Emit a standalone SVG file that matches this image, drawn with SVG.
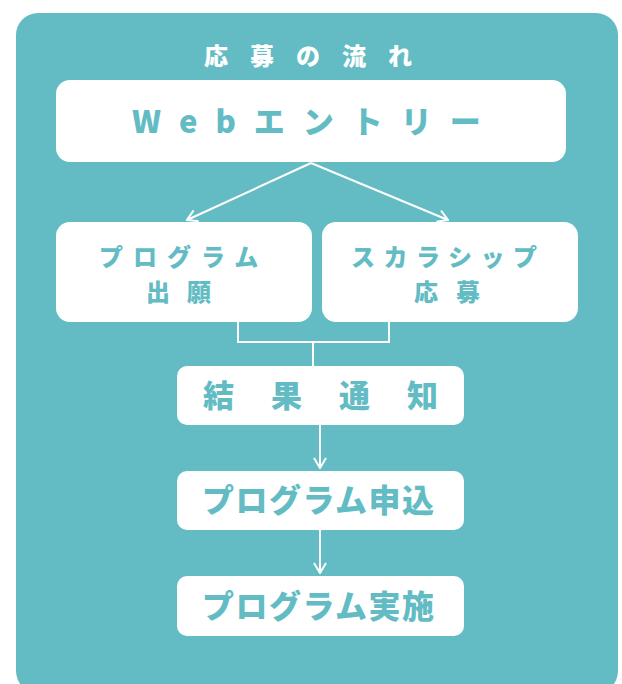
<svg xmlns="http://www.w3.org/2000/svg" width="622" height="684" viewBox="0 0 622 684">
<defs>
<style>
.bg{fill:#63bcc4}
.box{fill:#ffffff}
.t{font-family:"Noto Sans CJK JP","Noto Sans",sans-serif;font-weight:900;fill:#63bcc4}
.title{font-family:"Noto Sans CJK JP","Noto Sans",sans-serif;font-weight:900;fill:#ffffff;font-size:24px;letter-spacing:22px}
.ln{fill:none;stroke:#ffffff;stroke-width:2}
</style>
<marker id="ah" viewBox="0 0 12 14" refX="11" refY="7" markerWidth="12" markerHeight="14" markerUnits="userSpaceOnUse" orient="auto">
<path d="M1,1 L11,7 L1,13" fill="none" stroke="#ffffff" stroke-width="2"/>
</marker>
</defs>
<rect class="bg" x="16" y="13" width="602" height="680" rx="22"/>
<text class="title" x="204" y="65">応募の流れ</text>
<g id="connectors">
<line class="ln" x1="311" y1="163" x2="187" y2="220" marker-end="url(#ah)"/>
<line class="ln" x1="311" y1="163" x2="448" y2="220" marker-end="url(#ah)"/>
<polyline class="ln" points="238,322 238,342 389,342 389,322"/>
<line class="ln" x1="313" y1="342" x2="313" y2="366"/>
<line class="ln" x1="320" y1="425" x2="320" y2="468" marker-end="url(#ah)"/>
<line class="ln" x1="320" y1="530" x2="320" y2="573" marker-end="url(#ah)"/>
</g>
<g id="web">
<rect class="box" x="56" y="80" width="510" height="82" rx="14"/>
<text class="t" x="132" y="133" font-size="31" letter-spacing="18">Webエントリー</text>
</g>
<g id="program-apply">
<rect class="box" x="56" y="222" width="256" height="100" rx="14"/>
<text class="t" x="99" y="266" font-size="24" letter-spacing="10">プログラム</text>
<text class="t" x="146" y="301" font-size="24" letter-spacing="17">出願</text>
</g>
<g id="scholarship">
<rect class="box" x="322" y="222" width="256" height="100" rx="14"/>
<text class="t" x="351" y="266" font-size="24" letter-spacing="8.5">スカラシップ</text>
<text class="t" x="414" y="301" font-size="24" letter-spacing="18">応募</text>
</g>
<g id="result">
<rect class="box" x="177" y="366" width="287" height="59" rx="10"/>
<text class="t" x="203" y="407" font-size="31" letter-spacing="37">結果通知</text>
</g>
<g id="program-entry">
<rect class="box" x="177" y="471" width="287" height="59" rx="10"/>
<text class="t" x="202" y="512" font-size="32" letter-spacing="1.5">プログラム申込</text>
</g>
<g id="program-run">
<rect class="box" x="177" y="576" width="287" height="60" rx="10"/>
<text class="t" x="202" y="618" font-size="32" letter-spacing="1.5">プログラム実施</text>
</g>
</svg>
